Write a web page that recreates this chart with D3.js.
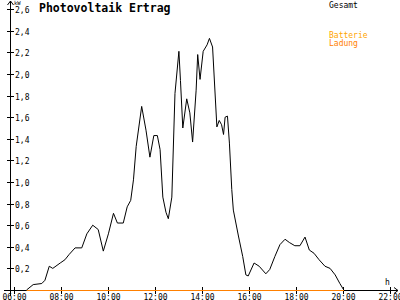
<!DOCTYPE html>
<html>
<head>
<meta charset="utf-8">
<script src="https://cdn.jsdelivr.net/npm/d3@7"></script>
<style>
  html, body { margin: 0; padding: 0; background: #fff; }
  svg { display: block; }
  text { font-family: "DejaVu Sans Mono", monospace; }
</style>
</head>
<body>
<div id="chart"></div>
<script>
// Gesamt (kW) readings over the day
const gesamtTimes = [
  '06:32','06:49','07:11','07:19','07:30','07:39','07:58','08:10','08:21','08:36',
  '08:53','09:06','09:21','09:35','09:48','10:01','10:14','10:24','10:39','10:49',
  '10:58','11:05','11:12','11:26','11:37','11:47','11:57','12:06','12:13','12:20',
  '12:28','12:34','12:43','12:51','13:01','13:05','13:11','13:21','13:29','13:36',
  '13:45','13:49','13:55','14:03','14:13','14:19','14:27','14:38','14:44','14:50',
  '14:55','14:59','15:05','15:10','15:16','15:20','15:33','15:44','15:52','15:58',
  '16:13','16:26','16:43','16:53','17:06','17:19','17:32','17:43','17:57','18:10',
  '18:23','18:34','18:46','18:59','19:14','19:27','19:40','19:52','20:02'
];
const gesamtValues = [
  0.00, 0.05, 0.06, 0.09, 0.22, 0.20, 0.25, 0.28, 0.33, 0.39,
  0.39, 0.52, 0.60, 0.56, 0.36, 0.52, 0.71, 0.62, 0.62, 0.77,
  0.83, 1.02, 1.33, 1.70, 1.48, 1.23, 1.43, 1.43, 1.30, 0.86,
  0.72, 0.66, 0.86, 1.82, 2.21, 1.94, 1.50, 1.77, 1.64, 1.37,
  1.85, 2.18, 1.95, 2.21, 2.27, 2.33, 2.25, 1.51, 1.57, 1.53,
  1.44, 1.60, 1.61, 1.36, 0.93, 0.74, 0.50, 0.31, 0.14, 0.13,
  0.25, 0.22, 0.15, 0.19, 0.31, 0.42, 0.47, 0.44, 0.41, 0.41,
  0.49, 0.37, 0.34, 0.28, 0.22, 0.20, 0.14, 0.06, 0.00
];
// Batterie / Ladung stay at zero all day
const batterieTimes = ['06:32', '20:02'];
const batterieValues = [0, 0];
const ladungTimes = ['06:32', '20:02'];
const ladungValues = [0, 0];

const yTicks = [0.2, 0.4, 0.6, 0.8, 1.0, 1.2, 1.4, 1.6, 1.8, 2.0, 2.2, 2.4, 2.6];
const xTicks = [6, 8, 10, 12, 14, 16, 18, 20, 22];

const seriesNames = ['Gesamt', 'Batterie', 'Ladung'];
const seriesColors = ['#000000', '#FFA500', '#FF8000'];

function toHours(t) {
  const [h, m] = t.split(':').map(Number);
  return h + m / 60;
}
function zip(times, values) {
  return times.map((t, i) => ({ h: toHours(t), v: values[i] }));
}

const width = 400;
const height = 300;

const x = d3.scaleLinear().domain([6, 22]).range([14, 390]);
const y = d3.scaleLinear().domain([0, 2.6]).range([290, 9.2]);

const svg = d3.select('#chart')
  .append('svg')
  .attr('width', width)
  .attr('height', height);

const axisX = 10;
const axisY = 290;

// Axes lines
svg.append('line')
  .attr('x1', axisX + 0.5).attr('x2', axisX + 0.5)
  .attr('y1', 1).attr('y2', 296)
  .attr('stroke', '#000').attr('shape-rendering', 'crispEdges');
svg.append('path')
  .attr('d', `M${axisX - 2.5},5 L${axisX + 0.5},1 L${axisX + 3.5},5`)
  .attr('fill', 'none').attr('stroke', '#000');

svg.append('line')
  .attr('x1', 4).attr('x2', 398)
  .attr('y1', axisY + 0.5).attr('y2', axisY + 0.5)
  .attr('stroke', '#000').attr('shape-rendering', 'crispEdges');
svg.append('path')
  .attr('d', `M394,${axisY - 2.5} L398,${axisY + 0.5} L394,${axisY + 3.5}`)
  .attr('fill', 'none').attr('stroke', '#000');

// Y ticks + labels
const fmtY = d => d.toFixed(1).replace('.', ',');
yTicks.forEach(t => {
  const yy = Math.round(y(t)) + 0.5;
  svg.append('line')
    .attr('x1', 7).attr('x2', 14)
    .attr('y1', yy).attr('y2', yy)
    .attr('stroke', '#000').attr('shape-rendering', 'crispEdges');
  svg.append('text')
    .attr('x', 15).attr('y', yy + 3)
    .style('font-size', '8px')
    .attr('fill', '#000')
    .text(fmtY(t));
});

// X ticks + labels
const fmtX = h => String(h).padStart(2, '0') + ':00';
xTicks.forEach(t => {
  const xx = Math.round(x(t)) + 0.5;
  svg.append('line')
    .attr('x1', xx).attr('x2', xx)
    .attr('y1', axisY - 3).attr('y2', axisY + 4)
    .attr('stroke', '#000').attr('shape-rendering', 'crispEdges');
  svg.append('text')
    .attr('x', xx).attr('y', 299.5)
    .attr('text-anchor', 'middle')
    .style('font-size', '8px')
    .attr('fill', '#000')
    .text(fmtX(t));
});

// Axis units
svg.append('text')
  .attr('x', 14).attr('y', 5)
  .style('font-size', '5.5px')
  .text('kW');
svg.append('text')
  .attr('x', 385).attr('y', 285)
  .style('font-size', '8px')
  .text('h');

// Title
svg.append('text')
  .attr('x', 39).attr('y', 12)
  .style('font-size', '11.5px')
  .style('font-weight', 'bold')
  .text('Photovoltaik Ertrag');

// Series lines
const line = d3.line()
  .x(d => x(d.h))
  .y(d => y(d.v));

svg.append('path')
  .datum(zip(batterieTimes, batterieValues))
  .attr('d', line)
  .attr('fill', 'none')
  .attr('stroke', seriesColors[1])
  .attr('stroke-width', 1)
  .attr('transform', 'translate(0,0.5)');

svg.append('path')
  .datum(zip(ladungTimes, ladungValues))
  .attr('d', line)
  .attr('fill', 'none')
  .attr('stroke', seriesColors[2])
  .attr('stroke-width', 1)
  .attr('shape-rendering', 'crispEdges')
  .attr('transform', 'translate(0,0.5)');

svg.append('path')
  .datum(zip(gesamtTimes, gesamtValues))
  .attr('d', line)
  .attr('fill', 'none')
  .attr('stroke', seriesColors[0])
  .attr('stroke-width', 1)
  .attr('stroke-linejoin', 'round');

// Legend
const legendY = [7.5, 38, 46];
seriesNames.forEach((name, i) => {
  svg.append('text')
    .attr('x', 329).attr('y', legendY[i])
    .style('font-size', '8px')
    .attr('fill', seriesColors[i])
    .text(name);
});
</script>
</body>
</html>
